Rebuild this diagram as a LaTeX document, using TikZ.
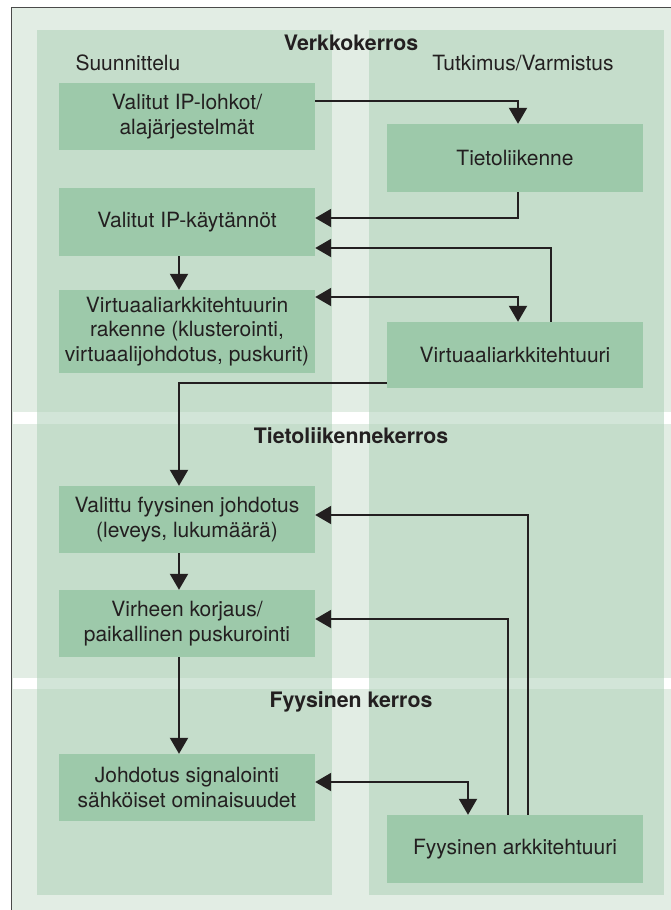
\documentclass[tikz,border=0pt]{standalone}
\usepackage{fontspec}
\setmainfont{TeX Gyre Heros}
\usetikzlibrary{arrows.meta}
\definecolor{bgl}{HTML}{E2EDE4}
\definecolor{colg}{HTML}{C5DDCB}
\definecolor{boxg}{HTML}{9DC9AA}
\definecolor{strp}{HTML}{D2E5D8}
\definecolor{ink}{HTML}{231F20}
\definecolor{frame}{HTML}{4A4A4A}
\begin{document}
\begin{tikzpicture}[x=1pt,y=-1pt,
  bx/.style={fill=boxg, minimum width=256pt, inner sep=0pt, align=center, text=ink,
    font=\fontsize{21}{24.5}\selectfont},
  arr/.style={draw=ink, line width=2pt, -{Triangle[length=16pt,width=18pt]}},
  arrb/.style={draw=ink, line width=2pt, {Triangle[length=16pt,width=18pt]}-{Triangle[length=16pt,width=18pt]}},
  ttl/.style={font=\bfseries\fontsize{21.3}{24}\selectfont, text=ink, anchor=base},
  lbl/.style={font=\fontsize{21}{24}\selectfont, text=ink, anchor=base}]

\useasboundingbox (0,0) rectangle (671,910);
\fill[white] (0,0) rectangle (671,910);
\fill[bgl] (12,8) rectangle (671,910);
\draw[frame, line width=1.4pt] (11.5,910) -- (11.5,7.5) -- (671,7.5);
% white strips between layers
\fill[white] (13,412) rectangle (671,423.5);
\fill[white] (13,677.5) rectangle (671,689);
% columns
\fill[colg] (37,30) rectangle (332,895);
\fill[colg] (369,30) rectangle (664,895);
\fill[strp] (37,412) rectangle (332,423.5);
\fill[strp] (369,412) rectangle (664,423.5);
\fill[strp] (37,677.5) rectangle (332,689);
\fill[strp] (369,677.5) rectangle (664,689);

% titles and labels
\node[ttl] (t1) at (351,50) {Verkkokerros};
\node[ttl] (t2) at (351,443) {Tietoliikennekerros};
\node[ttl] (t3) at (351,707) {Fyysinen kerros};
\node[lbl, anchor=base west] (s1) at (72,70) {Suunnittelu};
\node[lbl] (s2) at (523,70) {Tutkimus/Varmistus};

% boxes left
\node[bx, minimum height=67pt] (L1) at (187,116.5) {Valitut IP-lohkot/\\alajärjestelmät};
\node[bx, minimum height=68pt] (L2) at (187,222) {Valitut IP-käytännöt};
\node[bx, minimum height=83pt] (L3) at (187,331.5) {Virtuaaliarkkitehtuurin\\rakenne (klusterointi,\\virtuaalijohdotus, puskurit)};
\node[bx, minimum height=67pt] (L4) at (187,519.5) {Valittu fyysinen johdotus\\(leveys, lukumäärä)};
\node[bx, minimum height=67pt] (L5) at (187,623.5) {Virheen korjaus/\\paikallinen puskurointi};
\node[bx, minimum height=67pt] (L6) at (187,787.5) {Johdotus signalointi\\sähköiset ominaisuudet};
% boxes right
\node[bx, minimum height=68pt] (RA) at (515,158) {Tietoliikenne};
\node[bx, minimum height=66pt] (RB) at (515,355) {Virtuaaliarkkitehtuuri};
\node[bx, minimum height=68pt] (RC) at (515,849) {Fyysinen arkkitehtuuri};

% connectors
\draw[arr] ([yshift=16pt]L1.east) -| ([xshift=3pt]RA.north);
\draw[arr] ([xshift=3pt]RA.south) |- ([yshift=4pt]L2.east);
\draw[arr] ([xshift=36pt]RB.north) |- ([yshift=-26pt]L2.east);
\draw[arrb] ([yshift=34.5pt]L3.east) -| ([xshift=3pt]RB.north);
\draw[arr] ([yshift=-28pt]RB.west) -| ([xshift=-8pt]L4.north);
\draw[arr] ([xshift=-8pt]L2.south) -- ([xshift=-8pt]L3.north);
\draw[arr] ([xshift=-8pt]L4.south) -- ([xshift=-8pt]L5.north);
\draw[arr] ([xshift=-8pt]L5.south) -- ([xshift=-8pt]L6.north);
\draw[arr] ([xshift=13pt]RC.north) |- ([yshift=4.5pt]L4.east);
\draw[arr] ([xshift=-7pt]RC.north) |- ([yshift=4.5pt]L5.east);
\draw[arrb] ([yshift=5.5pt]L6.east) -| ([xshift=-47pt]RC.north);
\end{tikzpicture}
\end{document}
